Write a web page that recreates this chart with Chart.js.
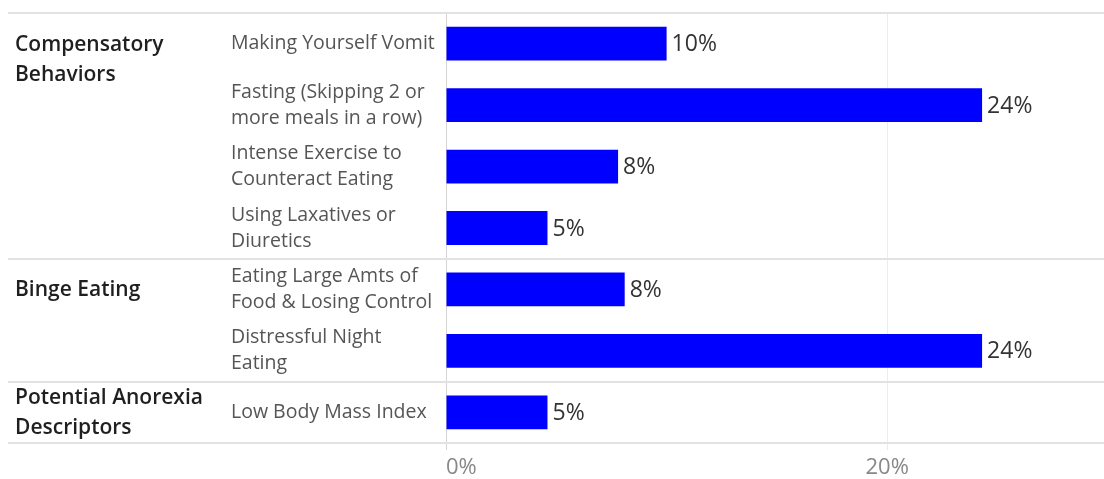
<!DOCTYPE html>
<html>
<head>
<meta charset="utf-8">
<script src="https://cdn.jsdelivr.net/npm/chart.js@4"></script>
<style>
  body { margin: 0; background: #fff; }
  #wrap { width: 1104px; height: 479px; }
</style>
</head>
<body>
<div id="wrap"><canvas id="barchart" width="1104" height="479"></canvas></div>
<script>
// data
var groupNames = [
    ["Compensatory", "Behaviors"],
    ["Binge Eating"],
    ["Potential Anorexia", "Descriptors"]
];
var groupStart = [0, 4, 6];   // first row of each group
var categories = [
    ["Making Yourself Vomit"],
    ["Fasting (Skipping 2 or", "more meals in a row)"],
    ["Intense Exercise to", "Counteract Eating"],
    ["Using Laxatives or", "Diuretics"],
    ["Eating Large Amts of", "Food & Losing Control"],
    ["Distressful Night", "Eating"],
    ["Low Body Mass Index"]
];
var percents = [10.0, 24.3, 7.8, 4.6, 8.1, 24.3, 4.6];
var xTicks = [0, 20];
var xMax = 29.6;

var FONT = "'Open Sans', 'DejaVu Sans', sans-serif";

// separators, group names and value labels
var tablePlugin = {
    id: "tableLook",
    beforeDatasetsDraw: function(chart) {
        var ctx = chart.ctx;
        var area = chart.chartArea;
        var y = chart.scales.y;
        var lines = [area.top, area.bottom];
        for (var g = 1; g < groupStart.length; g++) {
            var i = groupStart[g];
            lines.push((y.getPixelForValue(i - 1) + y.getPixelForValue(i)) / 2);
        }
        ctx.save();
        ctx.strokeStyle = "#e2e2e2";
        ctx.lineWidth = 2;
        lines.forEach(function(ly) {
            ctx.beginPath();
            ctx.moveTo(8, Math.round(ly));
            ctx.lineTo(chart.width, Math.round(ly));
            ctx.stroke();
        });
        ctx.restore();
    },
    afterDatasetsDraw: function(chart) {
        var ctx = chart.ctx;
        var y = chart.scales.y;
        var meta = chart.getDatasetMeta(0);
        ctx.save();

        // value labels at the bar ends
        ctx.font = "23px " + FONT;
        ctx.fillStyle = "#333333";
        ctx.textAlign = "left";
        ctx.textBaseline = "middle";
        meta.data.forEach(function(bar, i) {
            ctx.fillText(Math.round(percents[i]) + "%", bar.x + 5, bar.y + 1);
        });

        // group names on the far left
        ctx.font = "600 21px " + FONT;
        ctx.fillStyle = "#1f1f1f";
        var lh = 30;
        for (var g = 0; g < groupNames.length; g++) {
            var first = groupStart[g];
            var last = (g + 1 < groupStart.length ? groupStart[g + 1] : categories.length) - 1;
            var lines = groupNames[g];
            var top;
            if (first === last) {
                top = y.getPixelForValue(first) - (lines.length - 1) * lh / 2;
            } else {
                top = y.getPixelForValue(first);
            }
            lines.forEach(function(t, k) {
                ctx.fillText(t, 15, top + k * lh + 1);
            });
        }
        ctx.restore();
    }
};

var ctx = document.getElementById("barchart").getContext("2d");
var chart = new Chart(ctx, {
    type: "bar",
    data: {
        labels: categories,
        datasets: [{
            data: percents,
            backgroundColor: "#0000ff",
            borderWidth: 0,
            barPercentage: 0.55,
            categoryPercentage: 1.0
        }]
    },
    options: {
        indexAxis: "y",
        responsive: false,
        animation: false,
        layout: { padding: { left: 231, top: 10, right: 0, bottom: 0 } },
        plugins: {
            legend: { display: false },
            tooltip: { enabled: false }
        },
        scales: {
            y: {
                position: "left",
                grid: { display: false },
                border: { display: false },
                afterFit: function(scale) { scale.width = 215; },
                ticks: {
                    crossAlign: "far",
                    color: "#555555",
                    font: { family: FONT, size: 19.5, lineHeight: 1.33 },
                    padding: 0
                }
            },
            x: {
                position: "bottom",
                min: 0,
                max: xMax,
                afterFit: function(scale) { scale.height = 36; },
                afterBuildTicks: function(scale) {
                    var t = xTicks.map(function(v) { return { value: v }; });
                    t.push({ value: xMax });
                    scale.ticks = t;
                },
                border: { display: false },
                grid: {
                    drawTicks: true,
                    tickLength: 7,
                    lineWidth: 1,
                    color: function(c) {
                        if (c.tick && c.tick.value === 0) return "#d4d4d4";
                        if (c.tick && xTicks.indexOf(c.tick.value) >= 0) return "#ececec";
                        return "rgba(0,0,0,0)";
                    }
                },
                ticks: {
                    align: "inner",
                    padding: 5,
                    color: "#888888",
                    font: { family: FONT, size: 22 },
                    callback: function(v) {
                        return xTicks.indexOf(v) >= 0 ? v + "%" : "";
                    }
                }
            }
        }
    },
    plugins: [tablePlugin]
});
</script>
</body>
</html>
